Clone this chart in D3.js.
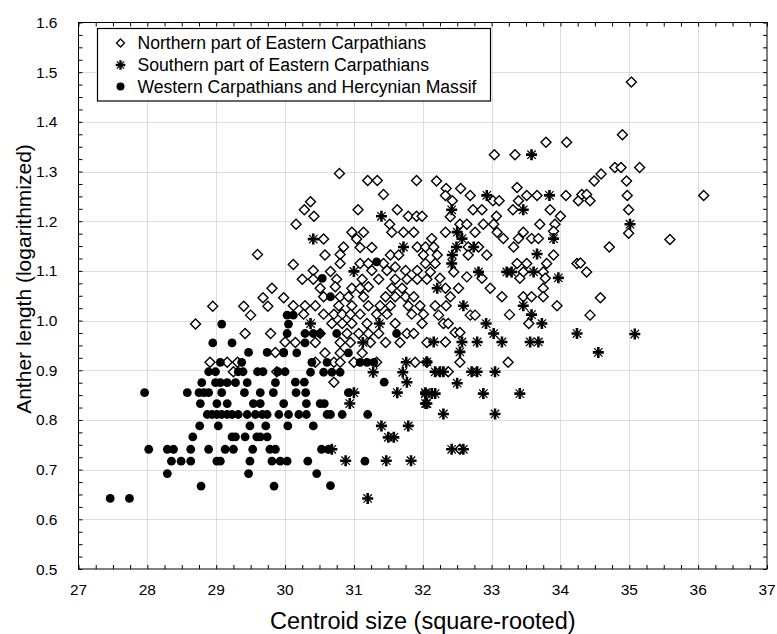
<!DOCTYPE html>
<html>
<head>
<meta charset="utf-8">
<script src="https://cdn.jsdelivr.net/npm/d3@7"></script>
<style>
  html, body { margin: 0; padding: 0; background: #fff; }
  svg { display: block; }
  text { font-family: "Liberation Sans", Arial, sans-serif; fill: #000; }
</style>
</head>
<body>
<svg id="chart" width="777" height="634"></svg>
<script>
// Series labels
const seriesNames = [
  "Northern part of Eastern Carpathians",
  "Southern part of Eastern Carpathians",
  "Western Carpathians and Hercynian Massif"
];

// Northern part of Eastern Carpathians: [centroid size, anther length]
const northern = [
  [28.95,1.029],[29.40,1.029],[29.50,1.011],[29.75,1.029],[28.70,0.993],[29.42,0.974],[29.79,0.974],
  [30.00,0.957],[29.86,0.936],[28.91,0.916],[29.16,0.916],[29.31,0.916],[29.25,0.897],[29.88,0.897],
  [29.60,1.133],[29.81,1.065],[29.68,1.046],[29.98,1.046],
  [30.79,1.296],[31.20,1.282],[31.34,1.282],[31.91,1.282],[31.43,1.254],[30.37,1.239],[30.28,1.223],
  [30.42,1.210],[31.06,1.223],[31.63,1.223],[30.16,1.194],[31.52,1.194],[31.79,1.210],[31.91,1.210],
  [31.99,1.210],[30.97,1.178],[31.14,1.178],[31.55,1.178],[31.72,1.178],[31.87,1.178],[30.56,1.164],
  [31.04,1.164],[30.85,1.148],[31.09,1.147],[31.26,1.147],[31.92,1.148],[30.58,1.132],[30.80,1.133],
  [31.53,1.132],[31.65,1.132],[32.01,1.132],[30.12,1.113],[30.80,1.115],[31.09,1.115],[31.21,1.115],
  [31.43,1.115],[31.60,1.108],[31.75,1.101],[31.92,1.101],[30.41,1.101],[30.66,1.099],[31.26,1.101],
  [31.48,1.101],[30.25,1.083],[30.41,1.083],[30.75,1.083],[31.12,1.083],[31.36,1.083],[31.60,1.083],
  [31.77,1.083],[31.92,1.083],[32.06,1.083],[31.21,1.068],[30.51,1.065],[30.73,1.068],[31.55,1.065],
  [31.70,1.065],[30.97,1.065],[31.09,1.065],[30.56,1.048],[30.80,1.048],[30.92,1.048],[31.14,1.048],
  [31.46,1.048],[31.60,1.048],[31.75,1.048],[31.87,1.048],[30.12,1.030],[30.29,1.030],[30.44,1.030],
  [30.78,1.030],[30.97,1.030],[31.21,1.030],[31.38,1.030],[31.53,1.030],[31.79,1.030],[31.96,1.030],
  [30.27,1.013],[30.56,1.013],[30.71,1.013],[30.83,1.013],[30.95,1.013],[31.09,1.013],[31.33,1.013],
  [31.48,1.013],[31.84,1.013],[32.01,1.013],[30.68,0.994],[30.83,0.994],[30.97,0.994],[31.19,0.994],
  [31.60,0.994],[31.99,0.994],[30.51,0.974],[30.90,0.974],[31.36,0.974],[31.77,0.974],
  [30.15,0.956],[30.44,0.956],[30.80,0.956],[30.95,0.956],[31.07,0.974],[31.21,0.974],[31.24,0.956],
  [31.46,0.956],[31.67,0.956],[31.87,0.974],[32.06,0.956],[30.58,0.935],[30.80,0.935],[31.12,0.935],
  [30.44,0.916],[30.71,0.916],[30.80,0.916],[31.00,0.916],[31.33,0.916],[31.89,0.916],[32.06,0.916],
  [30.71,0.876],
  [33.79,1.359],[34.09,1.359],[33.04,1.334],[33.34,1.334],[32.20,1.281],[32.34,1.266],[32.55,1.266],
  [33.37,1.268],[32.33,1.252],[32.69,1.252],[33.51,1.252],[33.66,1.252],[34.08,1.252],[32.43,1.241],
  [33.02,1.241],[33.11,1.241],[33.39,1.241],[34.26,1.241],[32.73,1.223],[32.86,1.223],[33.31,1.223],
  [33.85,1.223],[32.40,1.209],[33.07,1.210],[34.00,1.210],[32.54,1.194],[32.64,1.194],[32.88,1.194],
  [33.03,1.194],[33.70,1.194],[33.92,1.194],[32.33,1.178],[32.76,1.178],[33.08,1.178],[33.46,1.178],
  [33.90,1.180],[32.13,1.165],[33.17,1.165],[33.39,1.165],[33.58,1.165],[33.68,1.165],[32.04,1.148],
  [32.16,1.148],[32.66,1.148],[32.81,1.148],[33.32,1.148],[33.90,1.132],[32.21,1.132],[32.66,1.132],
  [32.93,1.132],[32.04,1.115],[32.18,1.115],[33.37,1.115],[33.51,1.115],[33.80,1.115],[34.24,1.115],
  [32.11,1.098],[32.45,1.098],[32.64,1.088],[33.46,1.098],[33.75,1.098],
  [32.25,1.085],[32.52,1.065],[32.86,1.085],[32.98,1.065],[33.41,1.085],[33.78,1.085],[33.75,1.065],
  [32.33,1.065],[32.40,1.048],[33.15,1.048],[33.46,1.048],[33.58,1.048],[33.75,1.048],[33.95,1.030],
  [32.18,1.030],[32.34,1.030],[32.23,1.011],[32.69,1.011],[32.76,1.011],[33.26,1.012],[32.30,0.994],
  [32.37,0.994],[33.54,0.994],[32.47,0.976],[32.54,0.976],[32.33,0.957],[32.54,0.916],[33.24,0.916],
  [32.37,0.897],[32.54,0.741],
  [35.03,1.480],[34.90,1.374],[34.79,1.308],[34.88,1.308],[35.15,1.308],[34.59,1.295],[34.49,1.281],
  [34.96,1.281],[34.31,1.254],[34.38,1.254],[34.43,1.241],[34.97,1.252],[36.08,1.252],[34.99,1.223],
  [34.99,1.176],[35.59,1.163],[34.71,1.148],[34.29,1.116],[34.38,1.098],[34.58,1.046],[34.43,1.011]
];

// Southern part of Eastern Carpathians
const southern = [
  [31.40,1.210],[30.41,1.164],[31.72,1.148],[31.00,1.099],[30.37,0.994],[31.37,0.994],[31.13,0.956],
  [31.76,0.916],[31.28,0.896],[31.71,0.896],[31.77,0.876],[31.00,0.855],[31.63,0.855],[32.04,0.855],
  [30.94,0.833],[32.04,0.833],[31.40,0.788],[31.79,0.788],[31.50,0.765],[31.58,0.765],[30.68,0.741],
  [30.88,0.718],[31.47,0.718],[31.83,0.718],[31.20,0.642],
  [33.58,1.334],[32.93,1.252],[33.84,1.252],[32.42,1.223],[33.46,1.223],[33.90,1.165],[32.50,1.178],
  [32.57,1.165],[32.49,1.148],[32.74,1.148],[32.43,1.132],[33.66,1.134],[32.42,1.115],[32.81,1.098],
  [33.22,1.098],[33.29,1.098],[33.61,1.098],[33.97,1.086],[32.21,1.065],[32.59,1.030],[33.46,1.030],
  [33.58,1.012],[32.92,0.994],[33.73,0.994],[34.24,0.974],[33.03,0.974],[32.16,0.957],[32.57,0.957],
  [32.79,0.957],[33.15,0.957],[33.56,0.957],[33.68,0.957],[32.54,0.937],[32.06,0.917],[32.18,0.897],
  [32.25,0.897],[32.30,0.897],[32.71,0.897],[32.79,0.897],[33.05,0.897],[32.50,0.874],[32.04,0.853],
  [32.13,0.853],[32.18,0.853],[32.88,0.853],[33.41,0.853],[32.06,0.833],[32.30,0.812],[33.05,0.812],
  [32.42,0.741],[32.59,0.741],[35.01,1.194],[35.08,0.973],[34.55,0.936]
];

// Western Carpathians and Hercynian Massif
const western = [
  [29.08,0.993],[28.95,0.955],[29.23,0.955],[29.47,0.936],[29.74,0.936],[29.98,0.936],[29.06,0.916],
  [29.37,0.916],[28.89,0.897],[28.99,0.897],[29.32,0.897],[29.39,0.897],[29.60,0.897],[29.68,0.897],
  [29.90,0.897],[30.00,0.897],[28.79,0.875],[28.99,0.875],[29.06,0.875],[29.16,0.875],[29.28,0.875],
  [29.45,0.875],[29.86,0.875],[27.96,0.855],[28.58,0.855],[28.75,0.855],[28.82,0.855],[28.89,0.855],
  [29.08,0.855],[29.41,0.855],[29.64,0.855],[29.83,0.855],[28.77,0.833],[29.01,0.833],[29.16,0.833],
  [29.54,0.833],[29.64,0.833],[28.87,0.811],[28.94,0.811],[29.01,0.811],[29.08,0.811],[29.16,0.811],
  [29.23,0.811],[29.32,0.811],[29.45,0.811],[29.57,0.811],[29.67,0.811],[29.74,0.811],[29.91,0.811],
  [30.05,0.811],[28.76,0.788],[29.03,0.788],[29.49,0.788],[29.72,0.788],[30.04,0.788],[28.66,0.766],
  [29.23,0.766],[29.28,0.766],[29.42,0.766],[29.59,0.766],[29.64,0.766],[29.74,0.766],[28.02,0.741],
  [28.29,0.741],[28.38,0.741],[28.63,0.741],[28.89,0.741],[29.13,0.741],[29.25,0.741],[29.53,0.741],
  [29.78,0.741],[29.86,0.741],[28.35,0.717],[28.49,0.717],[28.63,0.717],[29.01,0.717],[29.06,0.717],
  [29.49,0.717],[29.81,0.717],[29.93,0.717],[30.03,0.717],[28.29,0.692],[29.47,0.692],[28.78,0.667],
  [29.84,0.667],[27.74,0.642],[27.46,0.642],
  [30.03,1.011],[30.12,1.011],[30.05,0.993],[30.03,0.974],[30.29,0.974],[30.41,0.974],[30.51,0.974],
  [30.75,0.974],[31.62,0.974],[30.54,1.085],[30.66,1.048],[31.33,1.118],
  [29.98,0.935],[30.17,0.935],[30.29,0.955],[30.39,0.916],[30.61,0.916],[30.92,0.935],[31.09,0.916],
  [31.19,0.916],[31.29,0.916],[30.37,0.896],[30.56,0.896],[30.68,0.896],[30.80,0.896],[30.15,0.876],
  [30.28,0.876],[31.44,0.876],[30.16,0.855],[30.30,0.855],[30.92,0.855],[29.98,0.833],[30.31,0.833],
  [30.51,0.833],[30.57,0.833],[30.20,0.811],[30.31,0.811],[30.61,0.811],[30.66,0.811],[30.83,0.811],
  [31.20,0.811],[30.41,0.788],[30.53,0.741],[30.63,0.741],[30.33,0.717],[31.16,0.717],[30.46,0.692],
  [30.66,0.668]
];

// Axis ticks
const xTicks = [27, 28, 29, 30, 31, 32, 33, 34, 35, 36, 37];
const yTicks = [0.5, 0.6, 0.7, 0.8, 0.9, 1.0, 1.1, 1.2, 1.3, 1.4, 1.5, 1.6];
const xTitle = "Centroid size (square-rooted)";
const yTitle = "Anther length (logarithmized)";

const svg = d3.select("#chart");
const margin = { left: 78.5, right: 10, top: 22.5, bottom: 65 };
const W = 777, H = 634;
const plotR = W - margin.right, plotB = H - margin.bottom;

const x = d3.scaleLinear().domain([27, 37]).range([margin.left, plotR]);
const y = d3.scaleLinear().domain([0.5, 1.6]).range([plotB, margin.top]);

// Dotted grid at the major ticks
const grid = svg.append("g").attr("stroke", "#bdbdbd").attr("stroke-width", 1)
  .attr("stroke-dasharray", "1,1");
grid.selectAll("line.gx").data(xTicks.slice(1, -1)).join("line")
  .attr("x1", d => Math.round(x(d)) + 0.5).attr("x2", d => Math.round(x(d)) + 0.5)
  .attr("y1", margin.top).attr("y2", plotB);
grid.selectAll("line.gy").data(yTicks.slice(1, -1)).join("line")
  .attr("y1", d => Math.round(y(d)) + 0.5).attr("y2", d => Math.round(y(d)) + 0.5)
  .attr("x1", margin.left).attr("x2", plotR);

// Inward ticks on all four sides (major plus quarter-step minors)
const xMinor = d3.range(27, 37.001, 0.25);
const yMinor = d3.range(0.5, 1.6001, 0.025);
function frameAxis(axis, scale, minors, transform) {
  const g = svg.append("g").attr("transform", transform);
  g.call(axis(scale).tickValues(minors).tickSize(-4).tickFormat(""));
  g.select(".domain").remove();
  return g;
}
frameAxis(d3.axisBottom, x, xMinor, `translate(0,${plotB})`);
frameAxis(d3.axisTop, x, xMinor, `translate(0,${margin.top})`);
frameAxis(d3.axisLeft, y, yMinor, `translate(${margin.left},0)`);
frameAxis(d3.axisRight, y, yMinor, `translate(${plotR},0)`);
svg.selectAll(".tick line").attr("stroke", "#000");

// Tick labels
svg.append("g").selectAll("text").data(xTicks).join("text")
  .attr("x", d => x(d)).attr("y", plotB + 25.5)
  .attr("text-anchor", "middle").attr("font-size", 15.5)
  .text(d => d);
svg.append("g").selectAll("text").data(yTicks).join("text")
  .attr("x", margin.left - 21).attr("y", d => y(d) + 5.5)
  .attr("text-anchor", "end").attr("font-size", 15.5)
  .text(d => d.toFixed(1));

// Frame
svg.append("rect").attr("x", margin.left).attr("y", margin.top)
  .attr("width", plotR - margin.left).attr("height", plotB - margin.top)
  .attr("fill", "none").attr("stroke", "#000").attr("stroke-width", 1);

// Axis titles
svg.append("text").attr("x", (margin.left + plotR) / 2).attr("y", 628.5)
  .attr("text-anchor", "middle").attr("font-size", 23.5).text(xTitle);
svg.append("text").attr("transform", "translate(31,279) rotate(-90)")
  .attr("text-anchor", "middle").attr("font-size", 21).text(yTitle);

// Marker shapes
const diamondPath = "M0,-5L5,0L0,5L-5,0Z";
const starPath = "M0,-5.5V5.5M-5.5,0H5.5";
const starDiag = "M-4.2,-4.2L4.2,4.2M-4.2,4.2L4.2,-4.2";

const marks = svg.append("g");
function drawDiamond(g, cx, cy) {
  g.append("path").attr("transform", `translate(${cx},${cy})`).attr("d", diamondPath)
    .attr("fill", "#fff").attr("stroke", "#000").attr("stroke-width", 1.4);
}
function drawStar(g, cx, cy) {
  const s = g.append("g").attr("transform", `translate(${cx},${cy})`);
  s.append("path").attr("d", starDiag).attr("stroke", "#000").attr("stroke-width", 1.2);
  s.append("path").attr("d", starPath).attr("stroke", "#000").attr("stroke-width", 2.6);
}
function drawDot(g, cx, cy) {
  g.append("circle").attr("cx", cx).attr("cy", cy).attr("r", 4.4).attr("fill", "#000");
}

northern.forEach(d => drawDiamond(marks, x(d[0]), y(d[1])));
western.forEach(d => drawDot(marks, x(d[0]), y(d[1])));
southern.forEach(d => drawStar(marks, x(d[0]), y(d[1])));

// Legend
const lg = svg.append("g");
lg.append("rect").attr("x", 97.5).attr("y", 28.5).attr("width", 393).attr("height", 72.5)
  .attr("fill", "#fff").attr("stroke", "#000").attr("stroke-width", 1.2);
const legendRows = [43, 65, 86.5];
seriesNames.forEach((name, i) => {
  const ly = legendRows[i];
  if (i === 0) {
    lg.append("path").attr("transform", `translate(120.5,${ly})`)
      .attr("d", "M0,-4L4,0L0,4L-4,0Z").attr("fill", "#fff")
      .attr("stroke", "#000").attr("stroke-width", 1.3);
  } else if (i === 1) {
    const s = lg.append("g").attr("transform", `translate(120.5,${ly})`);
    s.append("path").attr("d", "M-3.6,-3.6L3.6,3.6M-3.6,3.6L3.6,-3.6")
      .attr("stroke", "#000").attr("stroke-width", 1.2);
    s.append("path").attr("d", "M0,-4.8V4.8M-4.8,0H4.8")
      .attr("stroke", "#000").attr("stroke-width", 2.4);
  } else {
    lg.append("circle").attr("cx", 120.5).attr("cy", ly).attr("r", 4).attr("fill", "#000");
  }
  lg.append("text").attr("x", 137.5).attr("y", ly + 6.3)
    .attr("font-size", 17.6).text(name);
});
</script>
</body>
</html>
